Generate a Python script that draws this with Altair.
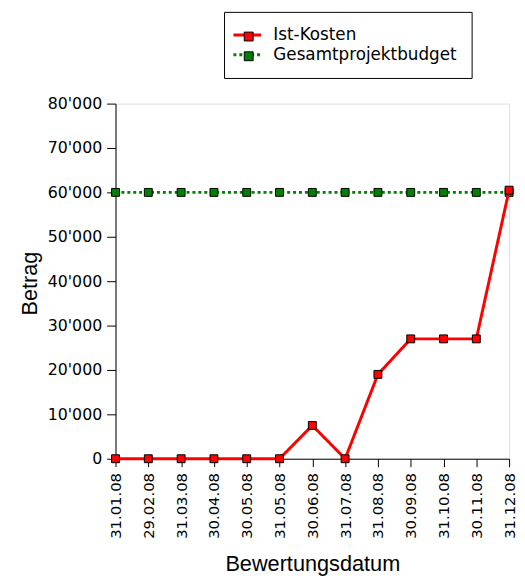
import altair as alt
import pandas as pd

dates = ["31.01.08", "29.02.08", "31.03.08", "30.04.08", "30.05.08", "31.05.08",
         "30.06.08", "31.07.08", "31.08.08", "30.09.08", "31.10.08", "30.11.08", "31.12.08"]
ist_kosten = [0, 0, 0, 0, 0, 0, 7500, 0, 19000, 27000, 27000, 27000, 60500]
budget = [60000] * 13
series_names = ["Ist-Kosten", "Gesamtprojektbudget"]
series_colors = ["#ff0000", "#008000"]

rows = []
for d, v in zip(dates, budget):
    rows.append({"datum": d, "serie": "Gesamtprojektbudget", "betrag": v, "order": 0})
for d, v in zip(dates, ist_kosten):
    rows.append({"datum": d, "serie": "Ist-Kosten", "betrag": v, "order": 1})
df = pd.DataFrame(rows)
df["serie_b"] = df["serie"]

FONT = "DejaVu Sans"
TITLE_FONT = "Liberation Sans"

x_enc = alt.X("datum:O", sort=dates, title="Bewertungsdatum",
              scale=alt.Scale(type="point", padding=0),
              axis=alt.Axis(labelAngle=-90, labelFontSize=15, labelFont=FONT, labelColor="black",
                            tickSize=8, tickColor="black", domainColor="black",
                            labelPadding=6, titleFont=TITLE_FONT, titleFontSize=22,
                            titleFontWeight="normal", titleColor="black",
                            titleY=106, titleBaseline="middle"))
y_enc = alt.Y("betrag:Q", title="Betrag",
              scale=alt.Scale(domain=[0, 80000]),
              axis=alt.Axis(values=list(range(0, 80001, 10000)), grid=False,
                            labelExpr="replace(format(datum.value, ','), ',', \"'\")",
                            labelFontSize=16, labelFont=FONT, labelColor="black",
                            tickSize=9, tickColor="black", domainColor="black", labelPadding=5,
                            titleFont=TITLE_FONT, titleFontSize=22, titleFontWeight="normal",
                            titleColor="black", titleX=-87, titleY=182, titleAngle=-90,
                            titleAlign="center", titleBaseline="middle"))

LEG_X = 110
LEG_Y = -93
line_legend = alt.Legend(
    title=None, orient="none", legendX=LEG_X, legendY=LEG_Y,
    symbolType="M-2.33,0H2.33", symbolSize=144, symbolStrokeWidth=3,
    labelFont=FONT, labelFontSize=17, labelColor="black", labelOffset=18, labelLimit=400,
    labelBaseline="middle", rowPadding=2, padding=15,
    strokeColor="black", fillColor="white",
)

lines = alt.Chart(df).mark_line(strokeWidth=3).encode(
    x=x_enc, y=y_enc,
    color=alt.Color("serie:N", scale=alt.Scale(domain=series_names, range=series_colors),
                    legend=line_legend),
    strokeDash=alt.StrokeDash("serie:N", scale=alt.Scale(domain=series_names, range=[[1, 0], [3, 3]]),
                              legend=line_legend),
    order=alt.Order("order:Q"),
)

point_legend = alt.Legend(
    title=None, orient="none", legendX=LEG_X + 1.5, legendY=LEG_Y + 1.5,
    symbolType="square", symbolSize=81, symbolStrokeColor="black", symbolStrokeWidth=1,
    labelFont=FONT, labelFontSize=17, labelColor="transparent", labelOffset=18, labelLimit=400,
    labelBaseline="middle", rowPadding=2, padding=15,
)

points = alt.Chart(df).mark_point(shape="square", filled=True, size=64, stroke="black",
                                  strokeWidth=1, opacity=1).encode(
    x=alt.X("datum:O", sort=dates),
    y=alt.Y("betrag:Q"),
    fill=alt.Fill("serie_b:N", sort=series_names, scale=alt.Scale(range=series_colors),
                  legend=point_legend),
)

chart = alt.layer(
    lines.transform_filter(alt.datum.serie == "Gesamtprojektbudget"),
    points.transform_filter(alt.datum.serie == "Gesamtprojektbudget"),
    lines.transform_filter(alt.datum.serie == "Ist-Kosten"),
    points.transform_filter(alt.datum.serie == "Ist-Kosten"),
).properties(
    width=399, height=360,
    autosize=alt.AutoSizeParams(type="none"),
    padding={"left": 109, "top": 93, "right": 8, "bottom": 118},
).configure_view(stroke="black", strokeWidth=1).configure(background="white")

chart.save("out.html", embed_options={"renderer": "svg", "actions": False})
